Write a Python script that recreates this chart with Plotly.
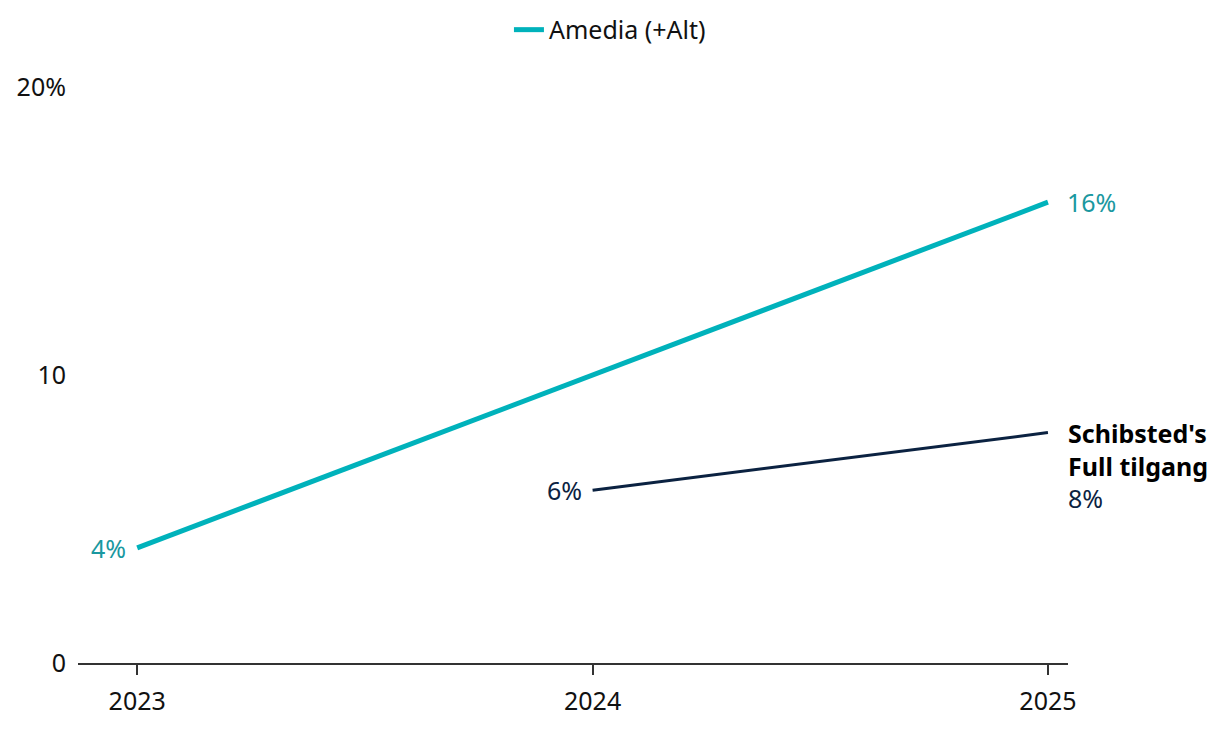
import plotly.graph_objects as go

years_amedia = [2023, 2024, 2025]
amedia_values = [4, 10, 16]
years_schibsted = [2024, 2025]
schibsted_values = [6, 8]
amedia_name = "Amedia (+Alt)"
schibsted_name = "Schibsted's<br>Full tilgang"
y_tickvals = [0, 10, 20]
y_ticktext = ["0", "10", "20%"]
x_tickvals = [2023, 2024, 2025]

TEAL = "#00b2bb"
TEAL_TEXT = "#1a98a0"
NAVY = "#0b2241"
FONT = "Noto Sans"
FS = 25

fig = go.Figure()
fig.add_trace(go.Scatter(x=years_amedia, y=amedia_values, mode="lines", name=amedia_name,
                         line=dict(color=TEAL, width=5), hoverinfo="skip"))
fig.add_trace(go.Scatter(x=years_schibsted, y=schibsted_values, mode="lines", name="Schibsted",
                         showlegend=False, line=dict(color=NAVY, width=3), hoverinfo="skip"))

ann = []
ann.append(dict(x=years_amedia[0], y=amedia_values[0], text=f"{amedia_values[0]}%", showarrow=False,
                xanchor="right", yanchor="middle", xshift=-9, font=dict(color=TEAL_TEXT, size=FS)))
ann.append(dict(x=years_amedia[-1], y=amedia_values[-1], text=f"{amedia_values[-1]}%", showarrow=False,
                xanchor="left", yanchor="middle", xshift=17, font=dict(color=TEAL_TEXT, size=FS)))
ann.append(dict(x=years_schibsted[0], y=schibsted_values[0], text=f"{schibsted_values[0]}%", showarrow=False,
                xanchor="right", yanchor="middle", xshift=-9, font=dict(color=NAVY, size=FS)))
ann.append(dict(x=years_schibsted[-1], y=schibsted_values[-1],
                text=f"<b>{schibsted_name}</b><br><span style='color:{NAVY}'>{schibsted_values[-1]}%</span>",
                showarrow=False, xanchor="left", yanchor="top", xshift=18, yshift=19, align="left",
                font=dict(color="#000000", size=FS)))

fig.update_layout(
    width=1220, height=730,
    margin=dict(l=70, r=160, t=79, b=75),
    paper_bgcolor="white", plot_bgcolor="white",
    font=dict(family=FONT, size=FS, color="#111111"),
    showlegend=True,
    legend=dict(orientation="h", xref="container", yref="container", x=0.4934, y=0.970,
                xanchor="center", yanchor="middle", font=dict(size=FS), itemwidth=30),
    annotations=ann,
    xaxis=dict(range=[2022.87, 2025.044], tickvals=x_tickvals, ticktext=[str(v) for v in x_tickvals],
               showgrid=False, zeroline=False, showline=True, linecolor="#333333", linewidth=2,
               ticks="outside", ticklen=10, tickwidth=2, tickcolor="#333333", ticklabelstandoff=5,
               automargin=False, fixedrange=True),
    yaxis=dict(range=[0, 20], tickvals=y_tickvals, ticktext=y_ticktext, showgrid=False,
               zeroline=False, showline=False, ticks="", ticklabelstandoff=11,
               automargin=False, fixedrange=True),
)

fig.write_html("out.html")
